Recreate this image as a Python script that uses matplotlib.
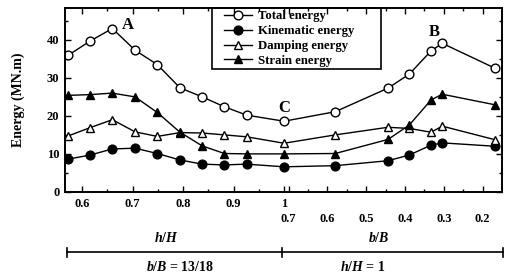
import matplotlib
matplotlib.use('Agg')
import matplotlib.pyplot as plt
from matplotlib.lines import Line2D
from matplotlib.patches import Rectangle
from matplotlib.ticker import FixedLocator

# ---------------- data ----------------
h_over_H = [0.572, 0.616, 0.660, 0.705, 0.749, 0.794, 0.838, 0.882, 0.926, 1.0]
b_over_B = [0.580, 0.444, 0.389, 0.333, 0.304, 0.167]

total     = [35.8, 39.6, 42.9, 37.2, 33.4, 27.3, 24.9, 22.3, 20.1, 18.5,
             21.0, 27.2, 30.9, 37.0, 39.0, 32.4]
kinematic = [8.5, 9.6, 11.2, 11.4, 10.0, 8.3, 7.2, 7.0, 7.2, 6.5,
             6.8, 8.1, 9.6, 12.2, 12.8, 11.9]
damping   = [14.6, 16.8, 18.9, 15.7, 14.5, 15.5, 15.4, 14.9, 14.4, 12.7,
             14.9, 16.9, 16.6, 15.6, 17.2, 13.6]
strain    = [25.3, 25.5, 25.9, 24.9, 20.8, 15.6, 12.0, 10.0, 9.9, 9.9,
             10.0, 13.7, 17.5, 24.1, 25.6, 22.8]

h_ticks = [0.6, 0.7, 0.8, 0.9, 1.0]
h_tick_labels = ['0.6', '0.7', '0.8', '0.9', '1']
h_minor = [0.65, 0.75, 0.85, 0.95]
b_ticks = [0.7, 0.6, 0.5, 0.4, 0.3, 0.2]
b_tick_labels = ['0.7', '0.6', '0.5', '0.4', '0.3', '0.2']
b_minor = [0.65, 0.55, 0.45, 0.35, 0.25]

y_ticks = [0, 10, 20, 30, 40]
y_minor = [5, 15, 25, 35, 45]

series_labels = ['Total energy', 'Kinematic energy', 'Damping energy', 'Strain energy']

# ---------------- scale mapping (two joined axes) ----------------
def pos_h(h):
    return h

def pos_b(b):
    return 1.0093 + (0.7 - b) * 0.768

xs = [pos_h(v) for v in h_over_H] + [pos_b(v) for v in b_over_B]

plt.rcParams['font.family'] = ['Liberation Serif', 'DejaVu Serif']
plt.rcParams['font.weight'] = 'bold'
plt.rcParams['mathtext.fontset'] = 'custom'
plt.rcParams['mathtext.it'] = 'Liberation Serif:italic:bold'
plt.rcParams['mathtext.rm'] = 'Liberation Serif:bold'

W, H = 508, 276
fig = plt.figure(figsize=(W / 100, H / 100), dpi=100)
ax_l, ax_r, ax_t, ax_b = 65, 502, 8, 191.5
ax = fig.add_axes([ax_l / W, 1 - ax_b / H, (ax_r - ax_l) / W, (ax_b - ax_t) / H])

def axfx(px):
    return (px - ax_l) / (ax_r - ax_l)

def axfy(py):
    return (ax_b - py) / (ax_b - ax_t)

ms = 6.3
lw = 1.0
ax.plot(xs, total, '-o', color='black', mfc='white', mec='black', ms=ms, lw=lw, mew=1.0, label=series_labels[0])
ax.plot(xs, kinematic, '-o', color='black', mfc='black', mec='black', ms=ms, lw=lw, label=series_labels[1])
ax.plot(xs, damping, '-^', color='black', mfc='white', mec='black', ms=ms, lw=lw, mew=1.0, label=series_labels[2])
ax.plot(xs, strain, '-^', color='black', mfc='black', mec='black', ms=ms, lw=lw, label=series_labels[3])

ax.set_xlim(0.5663, 1.4317)
ax.set_ylim(0, 48.3)

major_pos = [pos_h(v) for v in h_ticks] + [pos_b(v) for v in b_ticks]
major_lab = h_tick_labels + [''] * len(b_ticks)
ax.set_xticks(major_pos)
ax.set_xticklabels(major_lab, fontsize=9, fontweight='bold')
ax.xaxis.set_minor_locator(FixedLocator([pos_h(v) for v in h_minor] + [pos_b(v) for v in b_minor]))
for v, s in zip(b_ticks, b_tick_labels):
    ax.text(pos_b(v), axfy(219), s, transform=ax.get_xaxis_transform(),
            fontsize=9, fontweight='bold', ha='center', va='center')

ax.set_yticks(y_ticks)
ax.set_yticklabels([str(v) for v in y_ticks], fontsize=9, fontweight='bold')
ax.yaxis.set_minor_locator(FixedLocator(y_minor))

ax.tick_params(which='both', direction='in', top=True, right=True, width=1.0)
ax.tick_params(which='major', length=4.5)
ax.tick_params(which='minor', length=2.2)
ax.tick_params(axis='x', which='major', pad=5)
ax.tick_params(axis='y', which='major', pad=4)
for sp in ax.spines.values():
    sp.set_linewidth(1.4)

ax.set_ylabel('Energy (MN.m)', fontsize=10, fontweight='bold')
ax.yaxis.set_label_coords(axfx(25), 0.5)

leg = ax.legend(loc='upper left', bbox_to_anchor=(axfx(224), axfy(10.5)), fontsize=9.2,
                frameon=False, handlelength=2.2, handletextpad=0.5,
                labelspacing=0.22, borderpad=0.0, borderaxespad=0.0)
ax.add_patch(Rectangle((axfx(212), axfy(69)), axfx(381) - axfx(212), axfy(8) - axfy(69),
                       transform=ax.transAxes, fill=False, edgecolor='black', lw=1.2,
                       clip_on=False, zorder=5))

ax.text(0.690, 43.8, 'A', fontsize=12, fontweight='bold', ha='center', va='center')
ax.text(1.297, 41.9, 'B', fontsize=12, fontweight='bold', ha='center', va='center')
ax.text(1.000, 22.1, 'C', fontsize=12, fontweight='bold', ha='center', va='center')

# bottom grouping annotation
def fx(px):
    return px / W

def fy(py):
    return 1 - py / H

yline = 252
fig.add_artist(Line2D([fx(66.7), fx(503)], [fy(yline), fy(yline)], color='black', lw=1.2))
for cx in [66.7, 282.3, 503]:
    fig.add_artist(Line2D([fx(cx), fx(cx)], [fy(yline - 4.5), fy(yline + 4.5)], color='black', lw=1.2))

fig.text(fx(166), fy(238), r'$h/H$', fontsize=10, ha='center', va='center')
fig.text(fx(379), fy(238), r'$b/B$', fontsize=10, ha='center', va='center')
fig.text(fx(180), fy(267), r'$b/B$ = 13/18', fontsize=10, ha='center', va='center', fontweight='bold')
fig.text(fx(363), fy(267), r'$h/H$ = 1', fontsize=10, ha='center', va='center', fontweight='bold')

fig.savefig('out.png', dpi=100)
